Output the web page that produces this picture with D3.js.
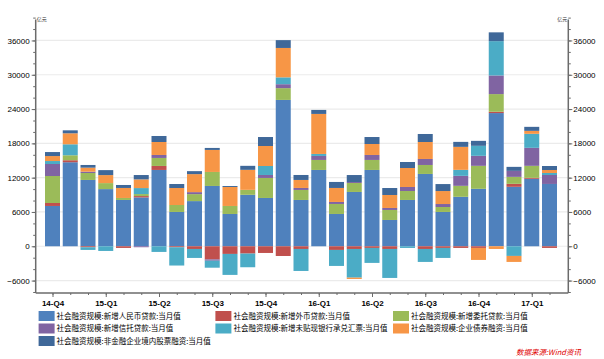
<!DOCTYPE html>
<html>
<head>
<meta charset="utf-8">
<script src="https://cdn.jsdelivr.net/npm/d3@7/dist/d3.min.js"></script>
<style>
  html, body { margin: 0; padding: 0; background: #fff; }
  svg { display: block; }
</style>
</head>
<body>
<svg id="chart" width="604" height="359"></svg>
<script>
// ---- data (亿元), Dec 2014 – Apr 2017 ----
const months = ["2014-12","2015-01","2015-02","2015-03","2015-04","2015-05","2015-06","2015-07","2015-08","2015-09","2015-10","2015-11","2015-12","2016-01","2016-02","2016-03","2016-04","2016-05","2016-06","2016-07","2016-08","2016-09","2016-10","2016-11","2016-12","2017-01","2017-02","2017-03","2017-04"];
const quarterLabels = ["14-Q4","15-Q1","15-Q2","15-Q3","15-Q4","16-Q1","16-Q2","16-Q3","16-Q4","17-Q1"];
const quarterMonths = ["2014-12","2015-03","2015-06","2015-09","2015-12","2016-03","2016-06","2016-09","2016-12","2017-03"];

const rmbLoans     = [7050,14700,11600,10000,8100,8550,13350,6000,7900,10550,5650,9000,8450,25600,8100,13350,5650,9500,13350,4600,8100,12650,6000,8650,10050,23300,10400,11800,10900];
const fxLoans      = [520,350,-170,0,-290,230,700,-170,-470,-2300,-1340,-1280,-1170,-1700,-470,0,-640,-470,-290,-470,0,-470,-290,-290,-290,230,520,170,-290];
const entrusted    = [4720,870,1220,1050,350,350,1400,1220,1220,2450,1400,870,3500,2060,1750,1750,1750,1570,1750,1750,1570,1570,870,1920,4020,3090,1220,2100,0];
const trust        = [2100,0,230,0,0,-170,520,0,350,-230,0,0,520,690,350,700,350,170,870,350,700,1050,520,1750,1750,3260,1050,3150,1570];
const acceptance   = [520,1920,-470,-820,0,1050,-990,-3200,-1570,-1220,-3670,-2390,1570,1200,-3850,350,-2800,-5020,-2620,-5070,-290,-2270,-1750,1050,1750,6000,-1690,2450,350];
const corpBonds    = [870,1920,700,1400,1750,1520,2270,2970,3150,3850,3320,3500,3500,5140,1400,7000,2450,-230,1920,2270,3320,2970,2270,4020,-2100,-470,-1050,520,520];
const equity       = [700,520,470,870,520,760,1050,700,520,350,170,700,1570,1370,870,700,1050,1220,1220,1220,1050,1400,1220,870,870,1540,700,700,700];

const seriesNames = [
  "社会融资规模:新增人民币贷款:当月值",
  "社会融资规模:新增外币贷款:当月值",
  "社会融资规模:新增委托贷款:当月值",
  "社会融资规模:新增信托贷款:当月值",
  "社会融资规模:新增未贴现银行承兑汇票:当月值",
  "社会融资规模:企业债券融资:当月值",
  "社会融资规模:非金融企业境内股票融资:当月值"
];
const seriesValues = [rmbLoans, fxLoans, entrusted, trust, acceptance, corpBonds, equity];
const colors = ["#4F81BD","#C0504D","#9BBB59","#8064A2","#4BACC6","#F79646","#3F6899"];

const yTickValues = [-6000,0,6000,12000,18000,24000,30000,36000];

// ---- build table ----
const table = months.map((m, i) => {
  const row = { month: m };
  seriesNames.forEach((k, j) => { row[k] = seriesValues[j][i]; });
  return row;
});
const stacked = d3.stack().keys(seriesNames).offset(d3.stackOffsetDiverging)(table);

// ---- layout ----
const svg = d3.select("#chart");
const pLeft = 35.7, pRight = 568.3, pTop = 17.6, pBottom = 292;

const x = d3.scalePoint().domain(months).range([52.5, 549.5]);
const barW = 15;
const y = d3.scaleLinear().domain([-8000, 40000]).range([pBottom, pTop]);

const axisColor = "#6b6b6b";
const tickFont = "'Liberation Sans', Arial, sans-serif";
const cjkFont = "'Noto Sans CJK SC', sans-serif";

// gridlines
svg.append("g").selectAll("line").data(yTickValues).join("line")
  .attr("x1", pLeft).attr("x2", pRight)
  .attr("y1", d => y(d)).attr("y2", d => y(d))
  .attr("stroke", "#EBEBEB").attr("stroke-width", 1.2);

// bars
const gBars = svg.append("g");
stacked.forEach((s, j) => {
  gBars.append("g").attr("fill", colors[j])
    .selectAll("rect").data(s).join("rect")
    .attr("x", d => x(d.data.month) - barW / 2)
    .attr("width", barW)
    .attr("y", d => y(Math.max(d[0], d[1])))
    .attr("height", d => Math.abs(y(d[0]) - y(d[1])));
});

// left axis
const minorY = d3.range(-8000, 40001, 2000);
const gL = svg.append("g").attr("transform", `translate(${pLeft},0)`)
  .call(d3.axisLeft(y).tickValues(minorY).tickSize(2.5).tickFormat(""));
gL.select(".domain").remove();
gL.selectAll("line").attr("stroke", axisColor);
const gL2 = svg.append("g").attr("transform", `translate(${pLeft},0)`)
  .call(d3.axisLeft(y).tickValues(yTickValues).tickSize(4).tickPadding(2).tickFormat(d3.format("d")));
gL2.select(".domain").remove();
gL2.selectAll("line").attr("stroke", axisColor);
gL2.selectAll("text").attr("font-family", tickFont).attr("font-size", 8).attr("fill", "#000");
svg.append("line").attr("x1", pLeft).attr("x2", pLeft).attr("y1", y(40000) + 2).attr("y2", pBottom + 1)
  .attr("stroke", axisColor).attr("stroke-width", 1.5);

// right axis
const gR = svg.append("g").attr("transform", `translate(${pRight},0)`)
  .call(d3.axisRight(y).tickValues(minorY).tickSize(2.5).tickFormat(""));
gR.select(".domain").remove();
gR.selectAll("line").attr("stroke", axisColor);
const gR2 = svg.append("g").attr("transform", `translate(${pRight},0)`)
  .call(d3.axisRight(y).tickValues(yTickValues).tickSize(4).tickPadding(1).tickFormat(d3.format("d")));
gR2.select(".domain").remove();
gR2.selectAll("line").attr("stroke", axisColor);
gR2.selectAll("text").attr("font-family", tickFont).attr("font-size", 8).attr("fill", "#000");
svg.append("line").attr("x1", pRight).attr("x2", pRight).attr("y1", y(40000) + 2).attr("y2", pBottom + 1)
  .attr("stroke", axisColor).attr("stroke-width", 1.5);

// unit labels
svg.append("text").attr("x", pLeft + 1).attr("y", y(40000) + 3.5).attr("font-family", cjkFont)
  .attr("font-size", 5).attr("fill", "#333").text("亿元");
svg.append("text").attr("x", pRight - 1).attr("y", y(40000) + 3.5).attr("text-anchor", "end").attr("font-family", cjkFont)
  .attr("font-size", 5).attr("fill", "#333").text("亿元");

// bottom axis
const gB = svg.append("g").attr("transform", `translate(0,${pBottom + 1})`)
  .call(d3.axisBottom(x).tickValues(months).tickSize(2).tickFormat(""));
gB.select(".domain").remove();
gB.selectAll("line").attr("stroke", axisColor);
const qLabel = new Map(quarterMonths.map((m, i) => [m, quarterLabels[i]]));
const gB2 = svg.append("g").attr("transform", `translate(0,${pBottom + 1})`)
  .call(d3.axisBottom(x).tickValues(quarterMonths).tickSize(4).tickPadding(3).tickFormat(m => qLabel.get(m)));
gB2.select(".domain").remove();
gB2.selectAll("line").attr("stroke", axisColor);
gB2.selectAll("text").attr("font-family", tickFont).attr("font-size", 8).attr("font-weight", "bold").attr("fill", "#000");
svg.append("line").attr("x1", pLeft).attr("x2", pRight).attr("y1", pBottom + 1).attr("y2", pBottom + 1)
  .attr("stroke", axisColor).attr("stroke-width", 1.5);

// legend
const legCols = [38.6, 215.4, 393];
const legRows = [316, 328.5, 341];
const gLeg = svg.append("g");
seriesNames.forEach((name, j) => {
  const cx = legCols[j % 3], cy = legRows[Math.floor(j / 3)];
  gLeg.append("rect").attr("x", cx).attr("y", cy - 5).attr("width", 16).attr("height", 10).attr("fill", colors[j]);
  gLeg.append("text").attr("x", cx + 18).attr("y", cy + 2.7).attr("font-family", cjkFont)
    .attr("font-size", 7.5).attr("fill", "#000").text(name);
});

// source
svg.append("text").attr("x", 581).attr("y", 355).attr("text-anchor", "end")
  .attr("font-family", cjkFont).attr("font-size", 7.5).attr("font-style", "italic")
  .attr("fill", "#E00000").text("数据来源:Wind资讯");
</script>
</body>
</html>
